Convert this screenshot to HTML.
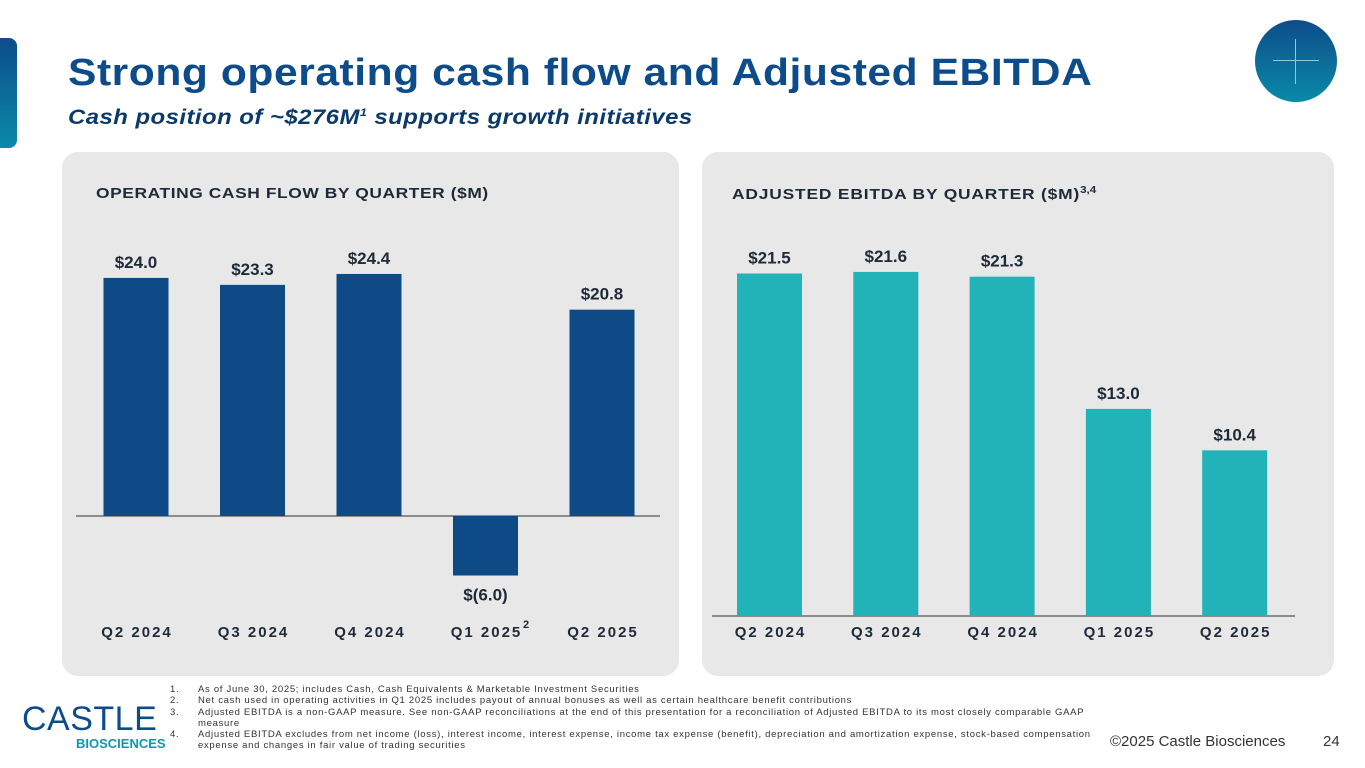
<!DOCTYPE html>
<html><head><meta charset="utf-8"><style>
body{margin:0;width:1365px;height:768px;overflow:hidden;background:#fff;font-family:"Liberation Sans",sans-serif;position:relative}
.abs{position:absolute}
.panel{position:absolute;background:#e8e8e8;border-radius:16px}
h1{position:absolute;left:68px;top:52px;margin:0;font-size:38px;color:#0d4c8a;font-weight:bold;letter-spacing:0.5px;white-space:nowrap;transform:scaleX(1.12);transform-origin:0 0}
.sub{left:68px;top:106px;font-size:21px;font-weight:bold;font-style:italic;color:#0b3a6a;letter-spacing:0.4px;white-space:nowrap;transform:scaleX(1.14);transform-origin:0 0}
.ptitle{font-size:15px;font-weight:bold;color:#1e2a38;letter-spacing:0.5px;white-space:nowrap;transform:scaleX(1.16);transform-origin:0 0}
.fn{left:170px;top:684px;font-size:9.5px;color:#333;line-height:11.3px;letter-spacing:0.7px;white-space:nowrap}
.fn div{position:relative;padding-left:28px}
.fn span{position:absolute;left:0}
</style></head><body>
<div class="abs" style="left:0;top:38px;width:17px;height:110px;border-radius:0 8px 8px 0;background:linear-gradient(#0d4c8a,#0a8aa8)"></div>
<h1>Strong operating cash flow and Adjusted EBITDA</h1>
<div class="abs sub">Cash position of ~$276M<sup style="font-size:11px">1</sup> supports growth initiatives</div>
<div class="abs" style="left:1255px;top:20px;width:82px;height:82px;border-radius:50%;background:linear-gradient(#0d4c8a,#0a8aa8)">
<div style="position:absolute;left:18px;top:40px;width:46px;height:1px;background:#8fc9dc"></div>
<div style="position:absolute;left:40px;top:19px;width:1px;height:45px;background:#8fc9dc"></div></div>
<div class="panel" style="left:62px;top:152px;width:617px;height:524px"></div>
<div class="panel" style="left:702px;top:152px;width:632px;height:524px"></div>
<div class="abs ptitle" style="left:96px;top:185px">OPERATING CASH FLOW BY QUARTER ($M)</div>
<div class="abs ptitle" style="left:732px;top:185px;letter-spacing:0.7px">ADJUSTED EBITDA BY QUARTER ($M)<sup style="font-size:10px;letter-spacing:0">3,4</sup></div>
<svg id="chart" class="abs" style="left:0;top:0" width="1365" height="768"></svg>
<div class="abs fn">
<div><span>1.</span>As of June 30, 2025; includes Cash, Cash Equivalents &amp; Marketable Investment Securities</div>
<div><span>2.</span>Net cash used in operating activities in Q1 2025 includes payout of annual bonuses as well as certain healthcare benefit contributions</div>
<div><span>3.</span>Adjusted EBITDA is a non-GAAP measure. See non-GAAP reconciliations at the end of this presentation for a reconciliation of Adjusted EBITDA to its most closely comparable GAAP<br>measure</div>
<div><span>4.</span>Adjusted EBITDA excludes from net income (loss), interest income, interest expense, income tax expense (benefit), depreciation and amortization expense, stock-based compensation<br>expense and changes in fair value of trading securities</div>
</div>
<div class="abs" style="left:22px;top:702px;color:#0d4c8a">
<div style="font-size:34px;line-height:34px;letter-spacing:0.5px">CASTLE</div>
<div style="font-size:13px;font-weight:bold;color:#0a9ab0;margin-left:54px">BIOSCIENCES</div></div>
<div class="abs" style="left:1110px;top:733px;font-size:15px;color:#333">©2025 Castle Biosciences</div>
<div class="abs" style="left:1323px;top:733px;font-size:15px;color:#333">24</div>
<script>
const ocfCats=["Q2 2024","Q3 2024","Q4 2024","Q1 2025","Q2 2025"];
const ocfVals=[24.0,23.3,24.4,-6.0,20.8];
const ocfLabels=["$24.0","$23.3","$24.4","$(6.0)","$20.8"];
const ebCats=["Q2 2024","Q3 2024","Q4 2024","Q1 2025","Q2 2025"];
const ebVals=[21.5,21.6,21.3,13.0,10.4];
const ebLabels=["$21.5","$21.6","$21.3","$13.0","$10.4"];
const svg=document.getElementById('chart');
const NS='http://www.w3.org/2000/svg';
function mk(t,a){const e=document.createElementNS(NS,t);for(const k in a)e.setAttribute(k,a[k]);svg.appendChild(e);return e;}
function draw(cats,vals,labels,x0,step,base,scale,color,axisX1,axisX2,catY,prefix){
 const xs=i=>x0+i*step, ys=v=>base-v*scale;
 const ax=mk('line',{x1:axisX1,x2:axisX2,y1:base,y2:base,stroke:'#555','stroke-width':1.2});
 
 
 vals.forEach((v,i)=>{
  const y=Math.min(ys(v),base),h=Math.abs(ys(v)-base);
  const r=mk('rect',{x:xs(i),y:y,width:65,height:h,fill:color});
  
  
  const ly=v>=0?ys(v)-10:ys(v)+25;
  const t=mk('text',{x:xs(i)+32.5,y:ly,'text-anchor':'middle','font-size':17,'font-weight':'bold',fill:'#1e2a38','font-family':'Liberation Sans'});
  t.textContent=labels[i];
  
  
  const c=mk('text',{x:xs(i)+33.5,y:catY,'text-anchor':'middle','font-size':15,'font-weight':'bold',fill:'#1e2a38','letter-spacing':2,'font-family':'Liberation Sans'});
  c.textContent=cats[i];
  
  
 });
}
draw(ocfCats,ocfVals,ocfLabels,103.5,116.5,516,9.92,'#0d4a86',76,660,637,'ocf');
draw(ebCats,ebVals,ebLabels,737,116.3,616,15.93,'#22b3b8',712,1295,637,'ebitda');
const s=mk('text',{x:523,y:628,'font-size':11,'font-weight':'bold',fill:'#1e2a38','font-family':'Liberation Sans'});
s.textContent='2';


</script>
</body></html>
